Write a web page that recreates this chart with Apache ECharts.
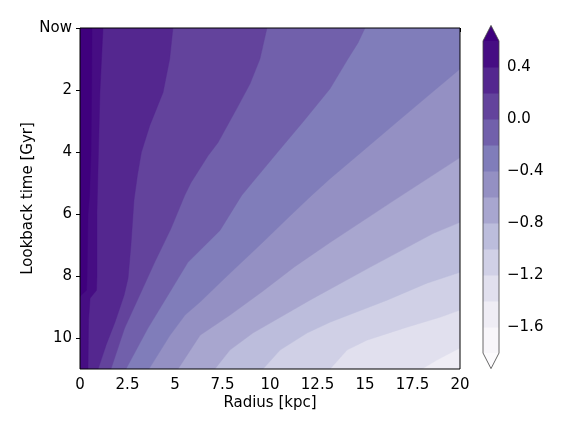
<!DOCTYPE html>
<html><head><meta charset="utf-8">
<script src="https://cdn.jsdelivr.net/npm/echarts@6/dist/echarts.min.js"></script>
<style>html,body{margin:0;padding:0;background:#fff}#c{width:576px;height:432px}</style>
</head><body><div id="c"></div>
<script>
// ---- axes / ticks ----
const radiusRange = [0, 20];
const timeRange = [0, 11];
const timeTicks = [0, 2, 4, 6, 8, 10];
const timeTickLabels = ['Now', '2', '4', '6', '8', '10'];
const colorbarTicks = [-1.6, -1.2, -0.8, -0.4, 0.0, 0.4];
const contourLevels = [-1.8, -1.6, -1.4, -1.2, -1.0, -0.8, -0.6, -0.4, -0.2, 0.0, 0.2, 0.4, 0.6];
const extendFrac = 0.05;

// ---- band colours (Purples): under, bands low->high, over ----
const underColor = '#fcfbfd';
const bandColors = ['#f8f6fa', '#efedf5', '#e1e0ee', '#d0d0e6', '#bcbddc', '#a8a6cf',
                    '#9490c3', '#807dba', '#7160ab', '#63439c', '#54278f', '#460d83'];
const overColor = '#3f007d';

// ---- contour boundaries [radius kpc, lookback Gyr]; higher values lie to the left ----
const c_m14 = [[20,10.32],[19.47,10.49],[18.79,10.71],[18.0,11]];
const c_m12 = [[20,9.1],[18.95,9.33],[17.21,9.65],[15.1,10.07],[14.05,10.39],[13.16,11]];
const c_m10 = [[20,7.88],[18.26,8.23],[16.16,8.78],[13.16,9.49],[11.95,9.84],[10.53,10.39],[9.63,11]];
const c_m08 = [[20,6.27],[18.58,6.63],[15.26,7.72],[12.1,8.78],[9.1,9.84],[7.89,10.39],[7.1,11]];
const c_m06 = [[20,4.18],[16.53,5.56],[13.16,6.92],[11.3,7.7],[9.6,8.5],[7.9,9.26],[6.32,9.91],[5.16,11]];
const c_m04 = [[20,1.32],[18.68,2],[16.76,2.99],[14.84,3.99],[13.16,4.86],[12.19,5.4],[11.16,6],[9.47,7],[7.74,8],[6.32,8.84],[5.53,9.26],[4.74,9.91],[3.63,11]];
const c_m02 = [[15.0,0],[14.63,0.48],[14.1,1],[13.16,1.96],[11.79,2.99],[10.42,3.99],[9.05,5],[8.51,5.4],[7.37,6.53],[6.32,7.17],[5.68,7.56],[4.63,8.62],[3.58,9.68],[2.42,11]];
const c_p00 = [[9.84,0],[9.47,1],[8.95,1.8],[8.25,2.6],[7.26,3.7],[6.74,4.12],[5.84,4.99],[5.51,5.4],[4.79,6.47],[3.93,7.56],[3.14,8.62],[2.35,9.68],[1.63,11]];
const c_p02 = [[4.89,0],[4.72,1.0],[4.37,2.08],[3.67,3.15],[3.23,4.01],[3.02,4.76],[2.84,5.56],[2.68,7.01],[2.53,8.07],[2.32,8.62],[1.84,9.49],[1.37,10.23],[0.95,11]];
const c_p04 = [[1.21,0],[1.05,2.03],[0.97,4.0],[0.89,6.0],[0.89,8.04],[0.87,8.46],[0.53,8.72],[0.45,9.42],[0.42,11]];
const c_p06 = [[0.63,0],[0.61,2.0],[0.58,4.0],[0.50,5.4],[0.42,6.0],[0.37,8.04],[0.34,8.46],[0,8.65]];

const boundaryLevels = [-1.4, -1.2, -1.0, -0.8, -0.6, -0.4, -0.2, 0.0, 0.2, 0.4, 0.6];
const boundaries = [c_m14, c_m12, c_m10, c_m08, c_m06, c_m04, c_m02, c_p00, c_p02, c_p04, c_p06];

// build filled regions (painter's order: lowest first)
const R0 = radiusRange[0], R1 = radiusRange[1], T0 = timeRange[0], T1 = timeRange[1];
const regions = [];
const regionColors = [];
regions.push([[R0,T0],[R1,T0],[R1,T1],[R0,T1]]);
regionColors.push(bandColors[contourLevels.indexOf(-1.6)]);
boundaries.forEach(function (line, i) {
  const first = line[0], last = line[line.length - 1];
  let poly = [[R0, T0]];
  if (first[1] > T0) poly.push([R1, T0]);
  poly = poly.concat(line);
  if (last[0] > R0) poly.push([R0, T1]);
  regions.push(poly);
  const lvl = boundaryLevels[i];
  const bi = contourLevels.indexOf(lvl);
  regionColors.push(bi >= contourLevels.length - 1 ? overColor : bandColors[bi]);
});

const FONT = 'DejaVu Sans';
const fmtMinus = v => (v < 0 ? '\u2212' : '') + Math.abs(v).toFixed(1);

const chart = echarts.init(document.getElementById('c'), null, {renderer: 'canvas'});
chart.setOption({
  animation: false,
  backgroundColor: '#fff',
  grid: [
    {left: 80, top: 28, width: 380, height: 341, show: true, borderColor: '#000', borderWidth: 1, backgroundColor: 'transparent', z: 5},
    {left: 483, top: 41, width: 16, height: 312, show: false}
  ],
  xAxis: [
    {gridIndex: 0, type: 'value', min: R0, max: R1, interval: 2.5,
     name: 'Radius [kpc]', nameLocation: 'middle', nameGap: 27, nameMoveOverlap: false,
     nameTextStyle: {fontFamily: FONT, fontSize: 15, color: '#000'},
     axisLine: {show: false}, splitLine: {show: false},
     axisTick: {show: true, inside: false, length: 4, lineStyle: {color: '#000', width: 1}},
     axisLabel: {fontFamily: FONT, fontSize: 15, color: '#000', margin: 9, showMinLabel: true, showMaxLabel: true}},
    {gridIndex: 1, type: 'value', min: 0, max: 1, show: false}
  ],
  yAxis: [
    {gridIndex: 0, type: 'value', inverse: true, min: T0, max: T1,
     name: 'Lookback time [Gyr]', nameLocation: 'middle', nameGap: 44, nameRotate: 90, nameMoveOverlap: false,
     nameTextStyle: {fontFamily: FONT, fontSize: 15, color: '#000'},
     axisLine: {show: false}, splitLine: {show: false},
     axisTick: {show: true, inside: false, length: 4, customValues: timeTicks, lineStyle: {color: '#000', width: 1}},
     axisLabel: {fontFamily: FONT, fontSize: 15, color: '#000', margin: 8, customValues: timeTicks,
       padding: [7, 0, 0, 0],
       formatter: v => timeTickLabels[timeTicks.indexOf(v)] || ''}},
    {gridIndex: 1, type: 'value', position: 'right', min: contourLevels[0], max: contourLevels[contourLevels.length - 1],
     axisLine: {show: false}, splitLine: {show: false},
     axisTick: {show: true, inside: false, length: 4, customValues: colorbarTicks, lineStyle: {color: '#000', width: 1}},
     axisLabel: {fontFamily: FONT, fontSize: 15, color: '#000', margin: 8, customValues: colorbarTicks,
       padding: [7, 0, 0, 0], formatter: fmtMinus}}
  ],
  series: [
    {
      type: 'custom', xAxisIndex: 0, yAxisIndex: 0, clip: true, silent: true,
      data: regions.map((r, i) => [i, 0]),
      renderItem: function (params, api) {
        const idx = api.value(0);
        const pts = regions[idx].map(p => api.coord(p));
        return {type: 'polygon', shape: {points: pts},
                style: {fill: regionColors[idx], stroke: regionColors[idx], lineWidth: 0.4}};
      }
    },
    {
      type: 'custom', xAxisIndex: 1, yAxisIndex: 1, clip: false, silent: true,
      data: [[0, 0]],
      renderItem: function (params, api) {
        const lo = contourLevels[0], hi = contourLevels[contourLevels.length - 1];
        const ext = (hi - lo) * extendFrac;
        const children = [];
        for (let i = 0; i < contourLevels.length - 1; i++) {
          const a = api.coord([0, contourLevels[i + 1]]);
          const b = api.coord([1, contourLevels[i]]);
          children.push({type: 'rect', shape: {x: a[0], y: a[1], width: b[0] - a[0], height: b[1] - a[1] + 0.5},
                         style: {fill: bandColors[i]}});
        }
        children.push({type: 'polygon', shape: {points: [api.coord([0, hi]), api.coord([1, hi]), api.coord([0.5, hi + ext])]},
                       style: {fill: overColor}});
        children.push({type: 'polygon', shape: {points: [api.coord([0, lo]), api.coord([1, lo]), api.coord([0.5, lo - ext])]},
                       style: {fill: underColor}});
        children.push({type: 'polygon', shape: {points: [api.coord([0, lo]), api.coord([0.5, lo - ext]), api.coord([1, lo]),
                                                         api.coord([1, hi]), api.coord([0.5, hi + ext]), api.coord([0, hi])]},
                       style: {fill: null, stroke: '#444', lineWidth: 0.8}});
        return {type: 'group', children: children};
      }
    }
  ]
});
</script></body></html>
